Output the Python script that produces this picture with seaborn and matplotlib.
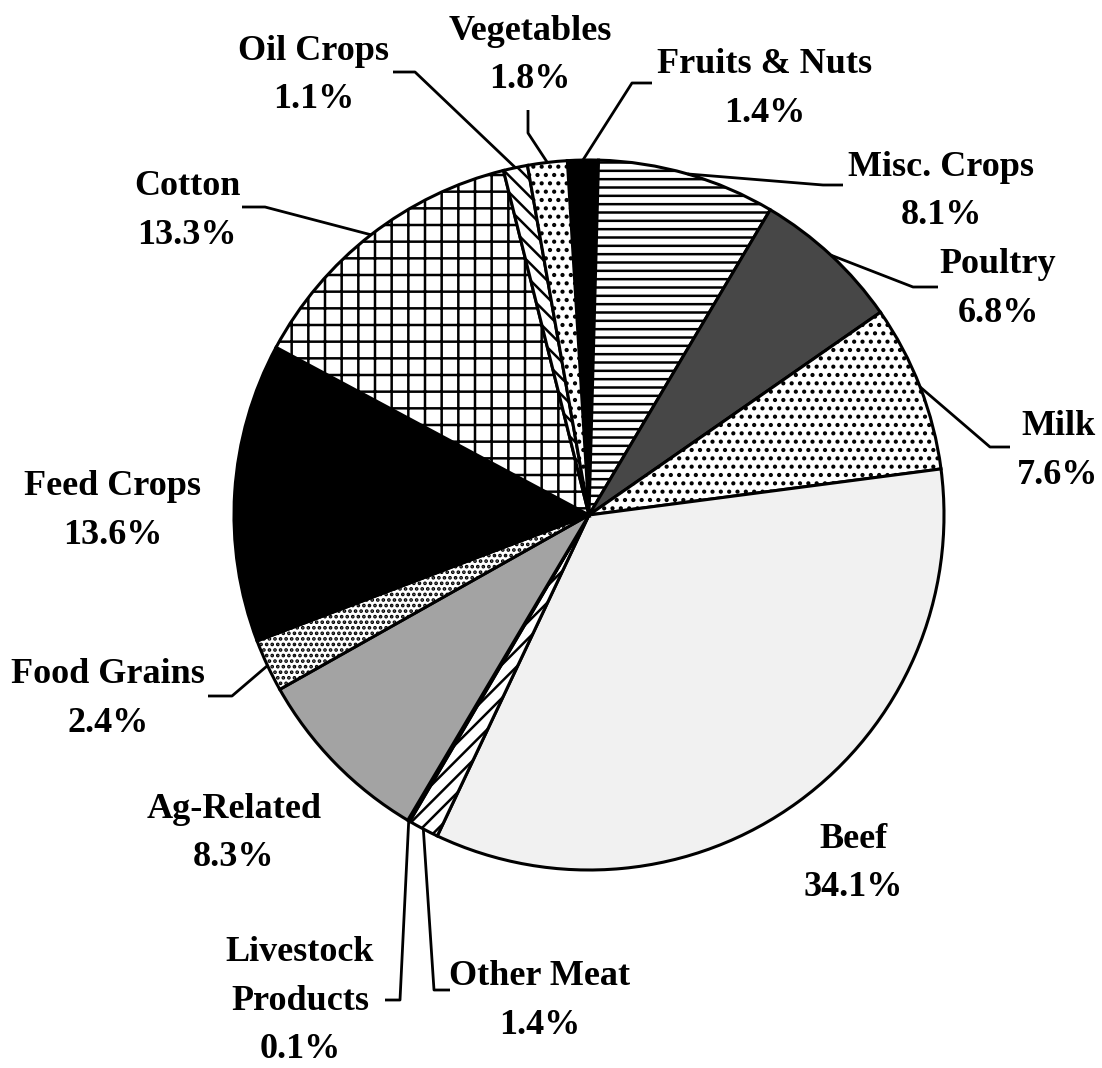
import numpy as np
import matplotlib
matplotlib.use("Agg")
import matplotlib.pyplot as plt
import seaborn as sns

# values, clockwise from the top
categories = ["Fruits & Nuts", "Misc. Crops", "Poultry", "Milk", "Beef", "Other Meat",
              "Livestock\nProducts", "Ag-Related", "Food Grains", "Feed Crops", "Cotton",
              "Oil Crops", "Vegetables"]
shares = [1.4, 8.1, 6.8, 7.6, 34.1, 1.4, 0.1, 8.3, 2.4, 13.6, 13.3, 1.1, 1.8]

# fill / hatch per slice (black & white print look)
fills = ["black", "white", "#474747", "white", "#f1f1f1", "white",
         "white", "#a3a3a3", "white", "black", "white", "white", "white"]
hatches = [None, "--", None, "..", None, "//", None, None, "...", None, "+", "\\\\", ".."]

W, H = 1102, 1068

# label layout in picture pixels: (center x, first baseline y)
label_pos = {
    "Fruits & Nuts": (765, 73),
    "Misc. Crops": (941, 176),
    "Poultry": (998, 273),
    "Milk": (1058, 435),
    "Beef": (853, 848),
    "Other Meat": (540, 985),
    "Livestock\nProducts": (300, 961),
    "Ag-Related": (234, 818),
    "Food Grains": (108, 683),
    "Feed Crops": (113, 495),
    "Cotton": (187, 195),
    "Oil Crops": (314, 60),
    "Vegetables": (530, 40),
}
# leader elbows (picture pixels), last point is the slice edge
leaders = {
    "Oil Crops": [(393, 72), (415, 72)],
    "Vegetables": [(528, 110), (528, 133)],
    "Fruits & Nuts": [(652, 83), (632, 83)],
    "Misc. Crops": [(843, 185), (823, 185)],
    "Poultry": [(938, 287), (913, 287)],
    "Milk": [(1010, 447), (990, 447)],
    "Other Meat": [(450, 990), (434, 990)],
    "Livestock\nProducts": [(385, 1000), (400, 1000)],
    "Food Grains": [(208, 696), (232, 696)],
    "Cotton": [(242, 207), (265, 207)],
}

sns.set_theme(style="white")
plt.rcParams["font.family"] = ["Liberation Serif", "DejaVu Serif"]
plt.rcParams["text.color"] = "black"
plt.rcParams["hatch.linewidth"] = 1.8
plt.rcParams["hatch.color"] = "black"

fig = plt.figure(figsize=(W / 100, H / 100), dpi=100)
ax = fig.add_axes([0, 0, 1, 1])

cx, cy, r = 589, H - 515, 355
wedges, _ = ax.pie(shares, startangle=93.5, counterclock=False, center=(cx, cy),
                   radius=r, colors=fills, hatch=hatches,
                   wedgeprops=dict(edgecolor="black", linewidth=2.2))

ax.set_xlim(0, W)
ax.set_ylim(0, H)
ax.set_aspect("equal")
ax.axis("off")

fs = 26
for w, name, val in zip(wedges, categories, shares):
    x, yb = label_pos[name]
    lines = name.split("\n") + [f"{val:.1f}%"]
    for i, t in enumerate(lines):
        ax.text(x, H - (yb + 48.5 * i), t, ha="center", va="baseline",
                fontsize=fs, fontweight="bold", color="black")
    if name in leaders:
        mid = np.deg2rad((w.theta1 + w.theta2) / 2)
        ex, ey = cx + r * np.cos(mid), cy + r * np.sin(mid)
        pts = [(px, H - py) for px, py in leaders[name]] + [(ex, ey)]
        xs, ys = zip(*pts)
        ax.plot(xs, ys, color="black", lw=2.0, solid_capstyle="butt")

fig.savefig("out.png", dpi=100, facecolor="white")
